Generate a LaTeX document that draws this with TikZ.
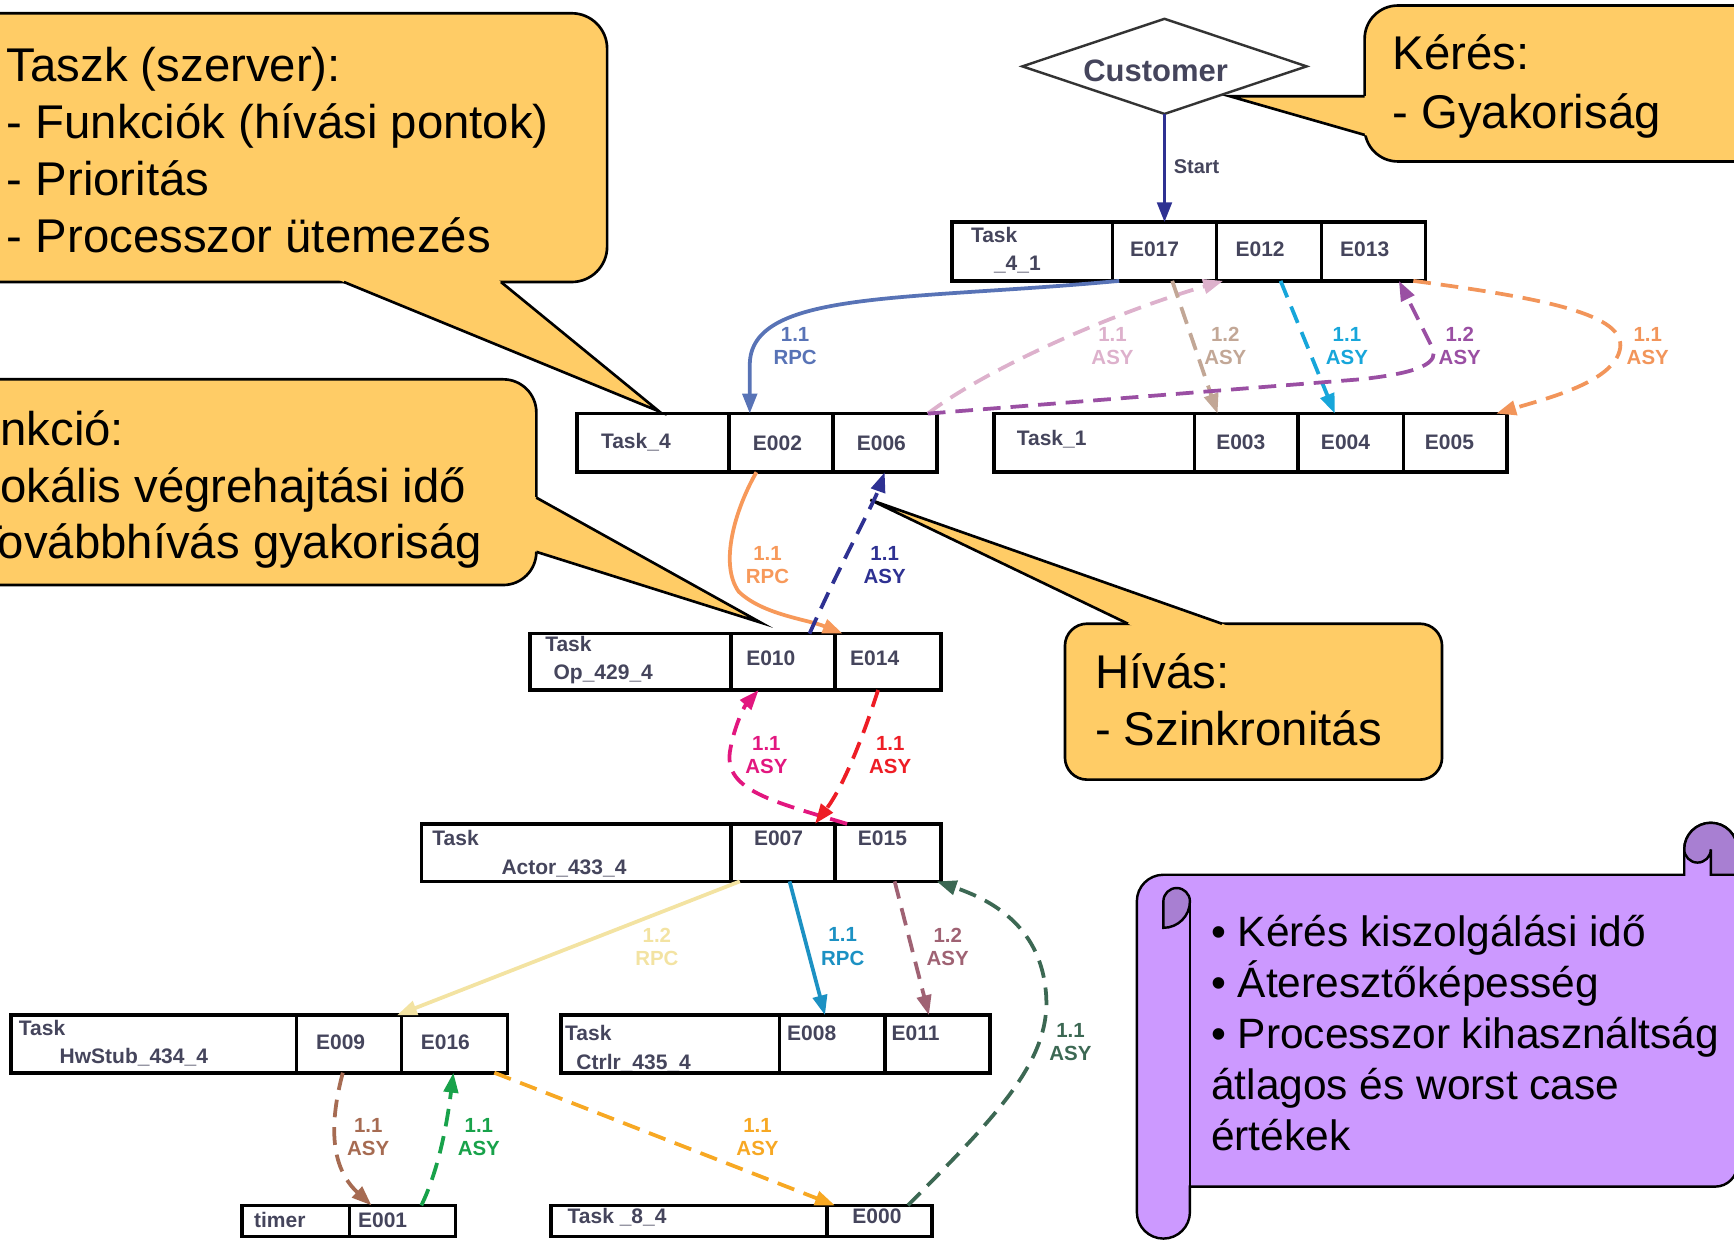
\documentclass[tikz,border=0pt]{standalone}
\usepackage{fontspec}
\setmainfont{Liberation Sans}
\usetikzlibrary{shapes.geometric,arrows.meta,calc}

\definecolor{callcol}{HTML}{FFCC66}
\definecolor{scrolllight}{HTML}{CC99FF}
\definecolor{scrolldark}{HTML}{A87FD2}
\definecolor{boxtext}{HTML}{45455C}
\definecolor{cnavy}{HTML}{2E3192}
\definecolor{cblue}{HTML}{5873B6}
\definecolor{cpink}{HTML}{DDB1CC}
\definecolor{ctan}{HTML}{C2A796}
\definecolor{ccyan}{HTML}{17A6DA}
\definecolor{cpurple}{HTML}{9A4FA3}
\definecolor{corange}{HTML}{F2955A}
\definecolor{corangeb}{HTML}{F7995A}
\definecolor{cmagenta}{HTML}{E2177F}
\definecolor{cred}{HTML}{EE1D25}
\definecolor{cpale}{HTML}{F3E3A2}
\definecolor{cteal}{HTML}{1C91C3}
\definecolor{cmauve}{HTML}{9F6273}
\definecolor{cdkgreen}{HTML}{3C6853}
\definecolor{cbrown}{HTML}{A66B52}
\definecolor{cgreen}{HTML}{18A24A}
\definecolor{camber}{HTML}{F7A823}

\tikzset{
  cellbox/.style={draw=black, line width=3.3pt, rectangle, inner sep=0pt, outer sep=0pt},
  btxt/.style={font=\bfseries\fontsize{19}{22}\selectfont, text=boxtext, inner sep=0pt,
               text height=13.6pt, text depth=0pt},
  clbl/.style={font=\bfseries\fontsize{18.5}{21}\selectfont, align=center, inner sep=0pt},
  conn/.style={line width=3.4pt, -{Triangle[length=18pt,width=13pt]}},
  dashy/.style={dash pattern=on 16pt off 9pt},
  callbody/.style={fill=callcol, draw=black, line width=2.4pt},
  calltext/.style={anchor=base west, inner sep=0pt, font=\fontsize{42.8}{51}\selectfont},
  scrolltext/.style={anchor=base west, inner sep=0pt, font=\fontsize{38.4}{46}\selectfont},
  scrollline/.style={draw=black, line width=2.2pt},
}

% one cell of a task row: name, x1, y1, x2, y2
\newcommand\mkcell[5]{\node[cellbox, minimum width={(#4-#2)*1pt}, minimum height={(#5-#3)*1pt}]
  (#1) at ({(#2+#4)/2},{(#3+#5)/2}) {};}
% pointer of a speech bubble: base point, tip, base point
\newcommand\calltail[3]{%
  \fill[callcol] ($#2!1.04!#1$) -- #2 -- ($#2!1.04!#3$) -- cycle;
  \draw[black, line width=2.4pt, line join=miter] #1 -- #2 -- #3;}

\begin{document}
\begin{tikzpicture}[x=1pt,y=-1pt]
\useasboundingbox (0,0) rectangle (1568,1122);
\clip (0,0) rectangle (1568,1122);

% ---------- speech bubbles ----------
\path[callbody, rounded corners=32pt] (-40,12) rectangle (549,255);
\calltail{(311,255)}{(596,372)}{(453,255)}
\node[calltext] (c1a) at (6,74) {Taszk (szerver):};
\node[calltext] (c1b) at (6,125.5) {- Funkciók (hívási pontok)};
\node[calltext] (c1c) at (6,177) {- Prioritás};
\node[calltext] (c1d) at (6,228.5) {- Processzor ütemezés};

\path[callbody, rounded corners=30pt] (1234,5) rectangle (1620,146);
\calltail{(1234,87)}{(1112,87)}{(1234,122)}
\node[calltext] (c2a) at (1259,63) {Kérés:};
\node[calltext] (c2b) at (1259,116) {- Gyakoriság};

\path[callbody, rounded corners=30pt] (-40,343) rectangle (485,529);
\calltail{(485,450)}{(688,563)}{(485,499)}
\node[calltext] (c3a) at (-49.7,403) {Funkció:};
\node[calltext] (c3b) at (-49.7,454) {- Lokális végrehajtási idő};
\node[calltext] (c3c) at (-49.7,505) {- Továbbhívás gyakoriság};

\path[callbody, rounded corners=20pt] (963,564) rectangle (1304,705);
\calltail{(1020,564)}{(787,452)}{(1105,564)}
\node[calltext] (c4a) at (990,623) {Hívás:};
\node[calltext] (c4b) at (990,674) {- Szinkronitás};

% ---------- scroll ----------
\path[scrollline, fill=scrolllight]
  (1028,1096) -- (1028,815) arc[start angle=180,end angle=90,radius=24pt]
  -- (1523,791) -- (1523,768) arc[start angle=180,end angle=90,radius=24pt]
  arc[start angle=90,end angle=0,radius=24pt] -- (1571,1053)
  arc[start angle=0,end angle=-90,radius=20pt] -- (1076,1073) -- (1076,1096)
  arc[start angle=0,end angle=-180,radius=24pt] -- cycle;
\draw[scrollline] (1076,815) -- (1076,1073);
\path[scrollline, fill=scrolldark] (1052,839) -- (1052,815)
  arc[start angle=180,end angle=0,radius=12pt]
  arc[start angle=0,end angle=-90,radius=24pt] -- cycle;
\path[scrollline, fill=scrolldark] (1523,768)
  arc[start angle=180,end angle=90,radius=24pt]
  arc[start angle=90,end angle=0,radius=24pt] -- (1571,791) -- (1547,791) -- (1547,768)
  arc[start angle=0,end angle=-180,radius=12pt] -- cycle;
\node[scrolltext] (s1) at (1095,856) {• Kérés kiszolgálási idő};
\node[scrolltext] (s2) at (1095,902) {• Áteresztőképesség};
\node[scrolltext] (s3) at (1095,948) {• Processzor kihasználtság};
\node[scrolltext] (s4) at (1095,994) {átlagos és worst case};
\node[scrolltext] (s5) at (1095,1040) {értékek};

% ---------- customer ----------
\node[diamond, draw=black!80, line width=2.2pt, minimum width=257pt, minimum height=86pt,
      inner sep=0pt, outer sep=0pt] (cust) at (1053,60) {};
\node[font=\bfseries\fontsize{28}{30}\selectfont, text=boxtext, inner sep=0pt] (custtxt) at (1045,64) {Customer};

% ---------- task rows: texts ----------
\node[btxt] (n41a) at (899,212.5) {Task};
\node[btxt] (n41b) at (920,238) {\_4\_1};
\node[btxt] (t017) at (1044,225) {E017};
\node[btxt] (t012) at (1139.5,225) {E012};
\node[btxt] (t013) at (1234,225) {E013};

\node[btxt] (n4) at (575,398.5) {Task\_4};
\node[btxt] (t002) at (703,401) {E002};
\node[btxt] (t006) at (797,401) {E006};

\node[btxt] (n1) at (951,396) {Task\_1};
\node[btxt] (t003) at (1122,399.5) {E003};
\node[btxt] (t004) at (1216.7,399.5) {E004};
\node[btxt] (t005) at (1310.7,399.5) {E005};

\node[btxt] (nopa) at (514,582) {Task};
\node[btxt] (nopb) at (545.5,608) {Op\_429\_4};
\node[btxt] (t010) at (697,595) {E010};
\node[btxt] (t014) at (791,595) {E014};

\node[btxt] (nacta) at (412,758) {Task};
\node[btxt] (nactb) at (510,784) {Actor\_433\_4};
\node[btxt] (t007) at (704,758) {E007};
\node[btxt] (t015) at (798,758) {E015};

\node[btxt] (nhwa) at (38,929.5) {Task};
\node[btxt] (nhwb) at (121,955) {HwStub\_434\_4};
\node[btxt] (t009) at (308,942) {E009};
\node[btxt] (t016) at (402.7,942) {E016};

\node[btxt] (nctra) at (532,934) {Task};
\node[btxt] (nctrb) at (573,960) {Ctrlr\_435\_4};
\node[btxt] (t008) at (734,934) {E008};
\node[btxt] (t011) at (828,934) {E011};

\node[btxt] (ntim) at (253,1103) {timer};
\node[btxt] (t001) at (346,1103) {E001};

\node[btxt] (n84) at (558,1100) {Task \_8\_4};
\node[btxt] (t000) at (793,1100) {E000};

% ---------- task rows: cells ----------
\mkcell{c41}{861}{201}{1006}{254}
\mkcell{E017}{1006}{201}{1100}{254}
\mkcell{E012}{1100}{201}{1195}{254}
\mkcell{E013}{1195}{201}{1289}{254}

\mkcell{c4}{522}{374}{659}{427}
\mkcell{E002}{659}{374}{753}{427}
\mkcell{E006}{753}{374}{847}{427}

\mkcell{c1}{899}{374}{1080}{427}
\mkcell{E003}{1080}{374}{1174}{427}
\mkcell{E004}{1174}{374}{1269}{427}
\mkcell{E005}{1269}{374}{1363}{427}

\mkcell{cop}{479}{573}{661}{624}
\mkcell{E010}{661}{573}{755}{624}
\mkcell{E014}{755}{573}{851}{624}

\mkcell{cact}{381}{745}{661}{797}
\mkcell{E007}{661}{745}{755}{797}
\mkcell{E015}{755}{745}{851}{797}

\mkcell{chw}{10}{918}{268}{970}
\mkcell{E009}{268}{918}{363}{970}
\mkcell{E016}{363}{918}{459}{970}

\mkcell{cctr}{507}{918}{705}{970}
\mkcell{E008}{705}{918}{800}{970}
\mkcell{E011}{800}{918}{895}{970}

\mkcell{ctim}{219}{1090}{316}{1118}
\mkcell{E001}{316}{1090}{412}{1118}

\mkcell{c84}{498}{1090}{748}{1118}
\mkcell{E000}{748}{1090}{843}{1118}

% ---------- calls ----------
\draw[conn, cnavy] (cust.south) -- (E017.north);
\node[font=\bfseries\fontsize{18}{20}\selectfont, text=boxtext, inner sep=0pt] (start) at (1082,151) {Start};

\draw[conn, cblue] ($(E017.south west)+(6,0)$) .. controls (820,272) and (678,262) .. (678,330)
  -- ($(E002.north west)+(19,0)$);
\draw[conn, dashy, cpink] ($(E006.north east)+(-8,0)$) .. controls (890,335) and (1000,285)
  .. ($(E012.south west)+(6,0)$);
\draw[conn, dashy, ctan] ($(E017.south west)+(54,0)$) -- ($(E003.north west)+(21,0)$);
\draw[conn, dashy, ccyan] ($(E012.south west)+(58,0)$) -- ($(E004.north west)+(33,0)$);
\draw[conn, dashy, cpurple] ($(E006.north east)+(-8,0)$) -- (1230,343)
  .. controls (1285,337) and (1302,328) .. (1295,314) -- ($(E013.south west)+(70,0)$);
\draw[conn, dashy, corange] ($(E013.south east)+(-11,0)$) .. controls (1400,270) and (1470,285)
  .. (1465,315) .. controls (1460,345) and (1400,360) .. ($(E005.north east)+(-10,0)$);

\draw[conn, corangeb] ($(E002.south west)+(25,0)$) .. controls (665,460) and (650,510)
  .. (668,535) .. controls (690,556) and (730,560) .. ($(E014.north west)+(7,0)$);
\draw[conn, dashy, cnavy] ($(E010.north west)+(71,0)$) .. controls (760,510) and (790,455)
  .. ($(E006.south west)+(47,0)$);

\draw[conn, dashy, cmagenta] ($(E015.north west)+(11,0)$) .. controls (700,725) and (655,715)
  .. (660,680) .. controls (663,660) and (672,640) .. ($(E010.south west)+(25,0)$);
\draw[conn, dashy, cred] ($(E014.south west)+(39,0)$) .. controls (780,668) and (762,712)
  .. ($(E007.north east)+(-18,0)$);

\draw[conn, cpale] ($(E007.south west)+(8,0)$) -- ($(E016.north west)+(-4,0)$);
\draw[conn, cteal] ($(E007.south west)+(53,0)$) -- ($(E008.north west)+(41,0)$);
\draw[conn, dashy, cmauve] ($(E015.south west)+(54,0)$) -- ($(E011.north west)+(40,0)$);
\draw[conn, dashy, cdkgreen] ($(E000.north west)+(73,0)$) .. controls (900,1010) and (950,960)
  .. (946,900) .. controls (942,840) and (900,815) .. ($(E015.south east)+(-4,0)$);

\draw[conn, dashy, cbrown] ($(E009.south west)+(42,0)$) .. controls (298,1015) and (298,1055)
  .. ($(E001.north west)+(20,0)$);
\draw[conn, dashy, cgreen] ($(E001.north west)+(65,0)$) .. controls (398,1055) and (405,1010)
  .. ($(E016.south west)+(47,0)$);
\draw[conn, dashy, camber] ($(E016.south east)+(-12,0)$) -- ($(E000.north west)+(7,0)$);

% ---------- call labels ----------
\node[clbl, text=cblue] (l1) at (719,313) {1.1\\RPC};
\node[clbl, text=cpink] (l2) at (1006,313) {1.1\\ASY};
\node[clbl, text=ctan] (l3) at (1108,313) {1.2\\ASY};
\node[clbl, text=ccyan] (l4) at (1218,313) {1.1\\ASY};
\node[clbl, text=cpurple] (l5) at (1320,313) {1.2\\ASY};
\node[clbl, text=corange] (l6) at (1490,313) {1.1\\ASY};
\node[clbl, text=corangeb] (l7) at (694,511) {1.1\\RPC};
\node[clbl, text=cnavy] (l8) at (800,511) {1.1\\ASY};
\node[clbl, text=cmagenta] (l9) at (693,683) {1.1\\ASY};
\node[clbl, text=cred] (l10) at (805,683) {1.1\\ASY};
\node[clbl, text=cpale] (l11) at (594,856) {1.2\\RPC};
\node[clbl, text=cteal] (l12) at (762,856) {1.1\\RPC};
\node[clbl, text=cmauve] (l13) at (857,856) {1.2\\ASY};
\node[clbl, text=cdkgreen] (l14) at (968,942) {1.1\\ASY};
\node[clbl, text=cbrown] (l15) at (333,1028) {1.1\\ASY};
\node[clbl, text=cgreen] (l16) at (433,1028) {1.1\\ASY};
\node[clbl, text=camber] (l17) at (685,1028) {1.1\\ASY};
\end{tikzpicture}
\end{document}
